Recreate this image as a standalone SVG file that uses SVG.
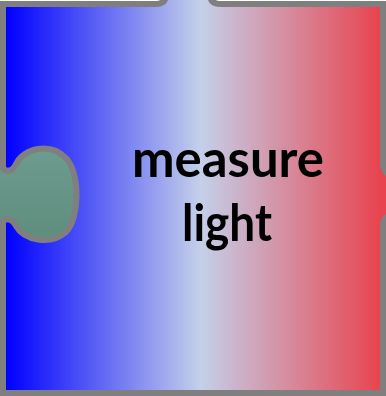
<svg xmlns="http://www.w3.org/2000/svg" width="386" height="396" viewBox="0 0 386 396">
  <defs>
    <linearGradient id="pieceFill" gradientUnits="userSpaceOnUse" x1="6" y1="0" x2="380" y2="0">
      <stop offset="0" stop-color="#0000ff"/>
      <stop offset="0.52" stop-color="#c4d0ea"/>
      <stop offset="1" stop-color="#e8444f"/>
    </linearGradient>
    <linearGradient id="tabFill" x1="0" y1="0" x2="0" y2="1">
      <stop offset="0" stop-color="#6d9c90"/>
      <stop offset="1" stop-color="#5f8d7d"/>
    </linearGradient>
    <style>
      .outline { stroke: #7f7f7f; stroke-width: 6; }
      .label { font-family: Lato, "Open Sans", "Liberation Sans", sans-serif; font-weight: 700; font-size: 51px; fill: #000000; text-anchor: middle; }
    </style>
  </defs>
  <rect width="386" height="396" fill="#ffffff"/>
  <g id="neighbor-tab">
    <path d="M -10 168 L 3 168 C 6 172 12 172 16 164 C 24 148 50 142 66 158 C 80 174 80 218 66 232 C 50 246 24 240 16 226 C 12 218 6 218 3 222 L -10 222 Z" fill="url(#tabFill)"/>
  </g>
  <g id="piece">
    <path class="outline" fill="url(#pieceFill)" d="M 3 4 H 156 Q 166 4 166 -6 V -30 H 210 V -6 Q 210 4 220 4 H 383 V 164 Q 383 174 393 174 V 216 Q 383 216 383 226 V 393 H 3 V 222 C 6 218 12 218 16 226 C 24 240 50 246 66 232 C 80 218 80 174 66 158 C 50 142 24 148 16 164 C 12 172 6 172 3 168 Z"/>
    <text class="label" x="228" y="177" textLength="192" lengthAdjust="spacingAndGlyphs">measure</text>
    <text class="label" x="227" y="241" textLength="90" lengthAdjust="spacingAndGlyphs">light</text>
  </g>
  <g id="connectors"/>
</svg>
